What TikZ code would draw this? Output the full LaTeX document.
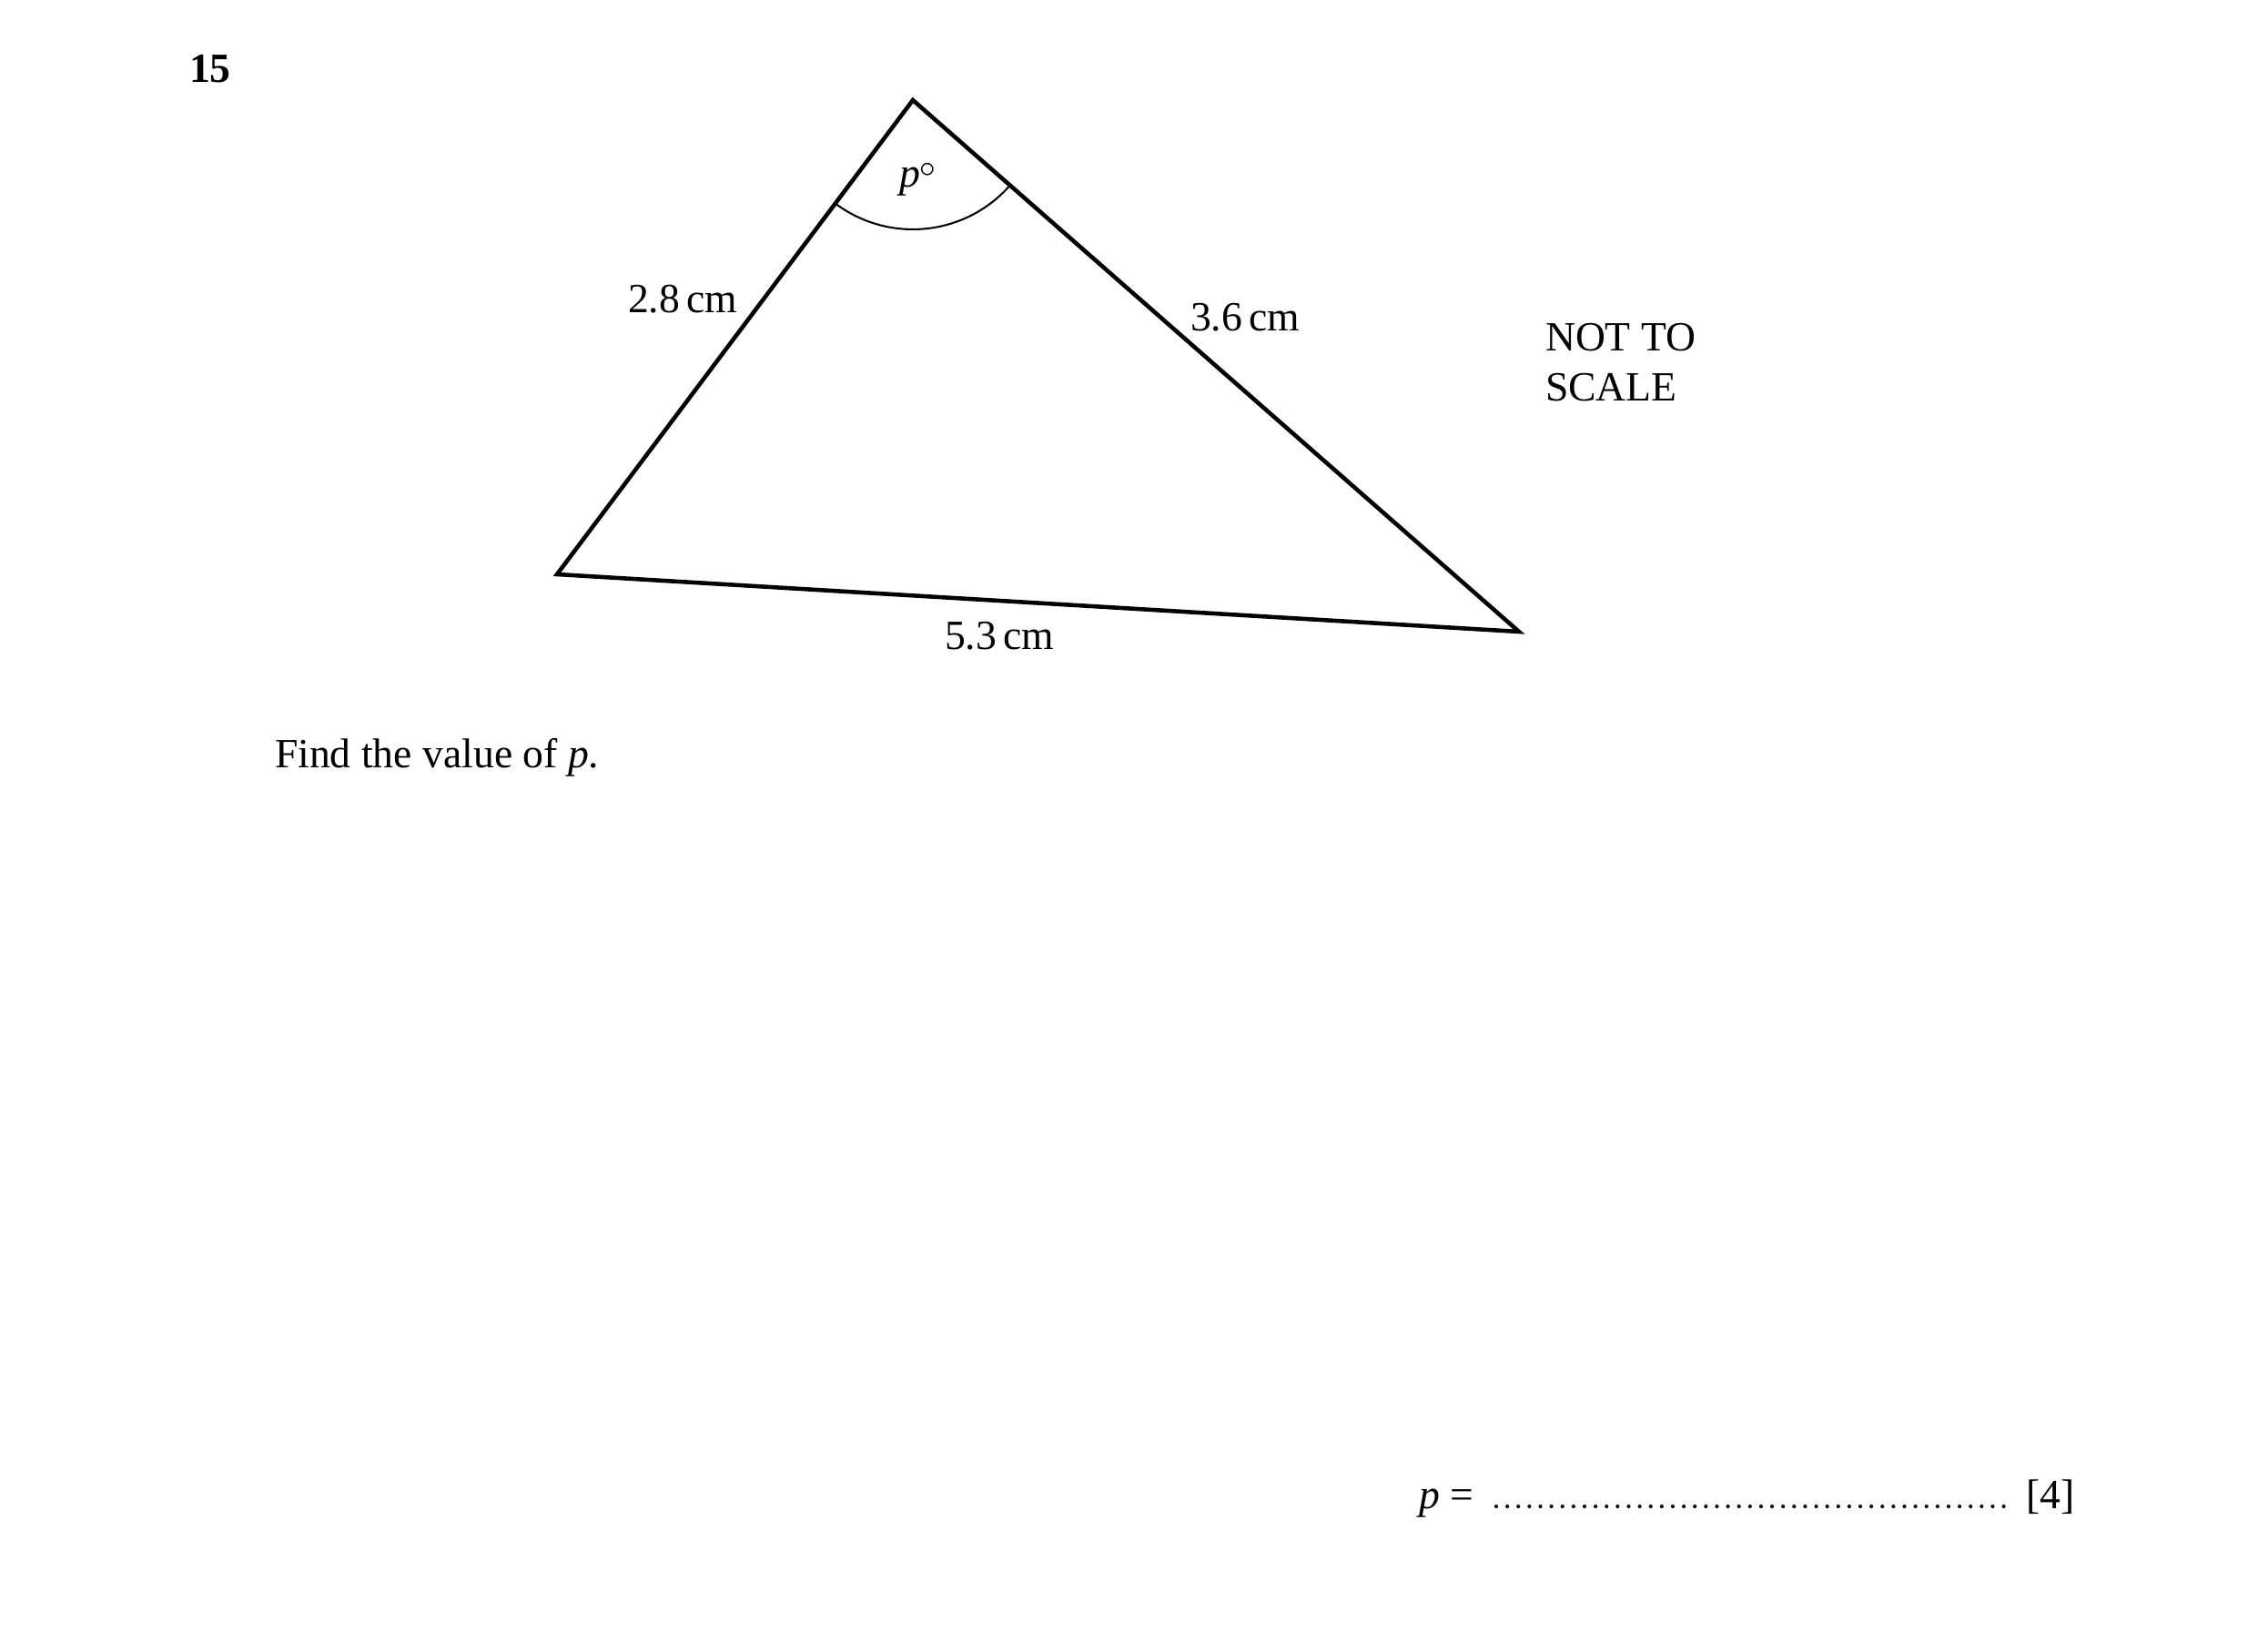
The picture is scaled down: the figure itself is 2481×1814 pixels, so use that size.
\documentclass[tikz,border=0pt]{standalone}
\usepackage{fontspec}
\setmainfont{Liberation Serif}
\usetikzlibrary{angles}
\begin{document}
\begin{tikzpicture}[x=0.08467mm,y=0.08467mm,
  lbl/.style={anchor=base west,inner sep=0pt,outer sep=0pt,font=\fontsize{11}{13.2}\selectfont},
  edge/.style={line width=1.1pt,line join=miter},
  dotline/.style={line width=1.0pt,line cap=round,dash pattern=on 0pt off 2.92pt}]
\useasboundingbox (0,0) rectangle (2481,-1814);
% vertices
\coordinate (A) at (1003,-110);
\coordinate (L) at (612,-631);
\coordinate (R) at (1669,-694);
\draw[edge] (A) -- (L) -- (R) -- cycle;
\pic[draw,line width=0.5pt,angle radius=12.02mm] {angle = L--A--R};
% labels
\node[lbl,font=\fontsize{11}{13.2}\selectfont\bfseries] (q) at (208,-90) {15};
\node[lbl] (pdeg) at (988,-205) {\textit{p}\raisebox{0.5ex}{\fontsize{8.5}{9}\selectfont$\circ$}};
\node[lbl] (s1) at (690,-343) {2.8\,cm};
\node[lbl] (s2) at (1308,-363) {3.6\,cm};
\node[lbl] (s3) at (1038,-713) {5.3\,cm};
\node[lbl] (nts1) at (1698,-385) {NOT TO};
\node[lbl] (nts2) at (1698,-440) {SCALE};
\node[lbl] (find) at (302,-843) {Find the value of \textit{p}.};
\node[lbl] (peq) at (1559,-1657) {\textit{p} =};
\coordinate (d1) at (1644,-1655);
\coordinate (d2) at (2212,-1655);
\draw[dotline] (d1) -- (d2);
\node[lbl] (mk) at (2226,-1657) {[4]};
\end{tikzpicture}
\end{document}
